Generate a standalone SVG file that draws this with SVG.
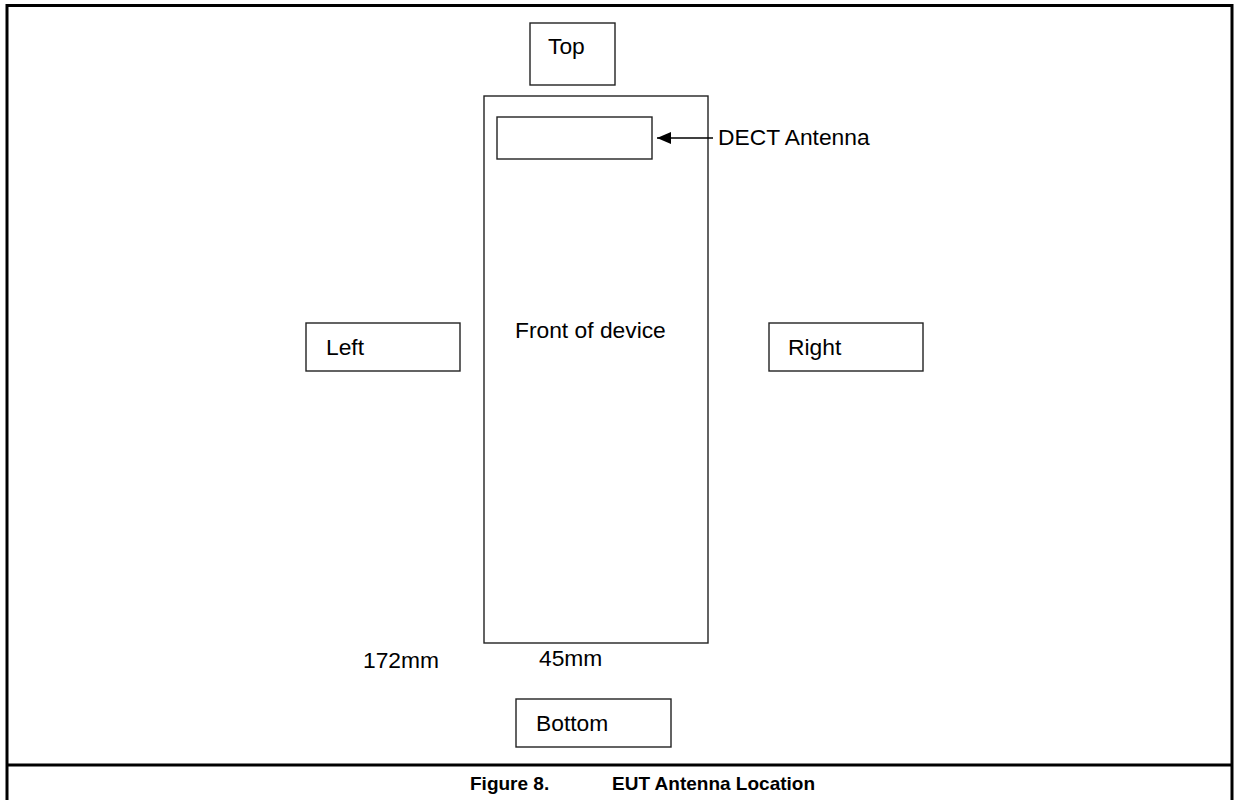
<svg xmlns="http://www.w3.org/2000/svg" width="1237" height="800" viewBox="0 0 1237 800">
<style>
.box{fill:#fff;stroke:#222;stroke-width:1.4}
.t{font-family:"Liberation Sans",Arial,sans-serif;font-size:22.8px;fill:#000}
.cap{font-family:"Liberation Sans",Arial,sans-serif;font-size:19px;font-weight:bold;fill:#000}
.frame{stroke:#000;stroke-width:3;fill:none}
</style>
<defs>
<marker id="ah" viewBox="0 0 14 12" refX="14" refY="6" markerWidth="14" markerHeight="12" markerUnits="userSpaceOnUse" orient="auto">
<path d="M0,0 L14,6 L0,12 Z" fill="#000"/>
</marker>
</defs>
<rect width="1237" height="800" fill="#fff"/>
<g id="frame">
<path class="frame" d="M7,802 V5.5 H1232 V802"/>
<line class="frame" x1="7" y1="765" x2="1232" y2="765"/>
</g>
<g id="top"><rect class="box" x="530" y="23" width="85" height="62"/><text class="t" x="548" y="54">Top</text></g>
<g id="device"><rect class="box" x="484" y="96" width="224" height="547"/><text class="t" x="515" y="338">Front of device</text></g>
<g id="antenna"><rect class="box" x="497" y="117" width="155" height="42"/></g>
<g id="antenna-label"><text class="t" x="718" y="145">DECT Antenna</text></g>
<g id="left"><rect class="box" x="306" y="323" width="154" height="48"/><text class="t" x="326" y="355">Left</text></g>
<g id="right"><rect class="box" x="769" y="323" width="154" height="48"/><text class="t" x="788" y="355">Right</text></g>
<g id="dim-height"><text class="t" x="363" y="668">172mm</text></g>
<g id="dim-width"><text class="t" x="539" y="666">45mm</text></g>
<g id="bottom"><rect class="box" x="516" y="699" width="155" height="48"/><text class="t" x="536" y="731">Bottom</text></g>
<g id="connectors">
<line x1="713" y1="138" x2="657" y2="138" stroke="#000" stroke-width="1.5" marker-end="url(#ah)"/>
</g>
<g id="caption"><text class="cap" x="470" y="790">Figure 8.</text><text class="cap" x="612" y="790">EUT Antenna Location</text></g>
</svg>
